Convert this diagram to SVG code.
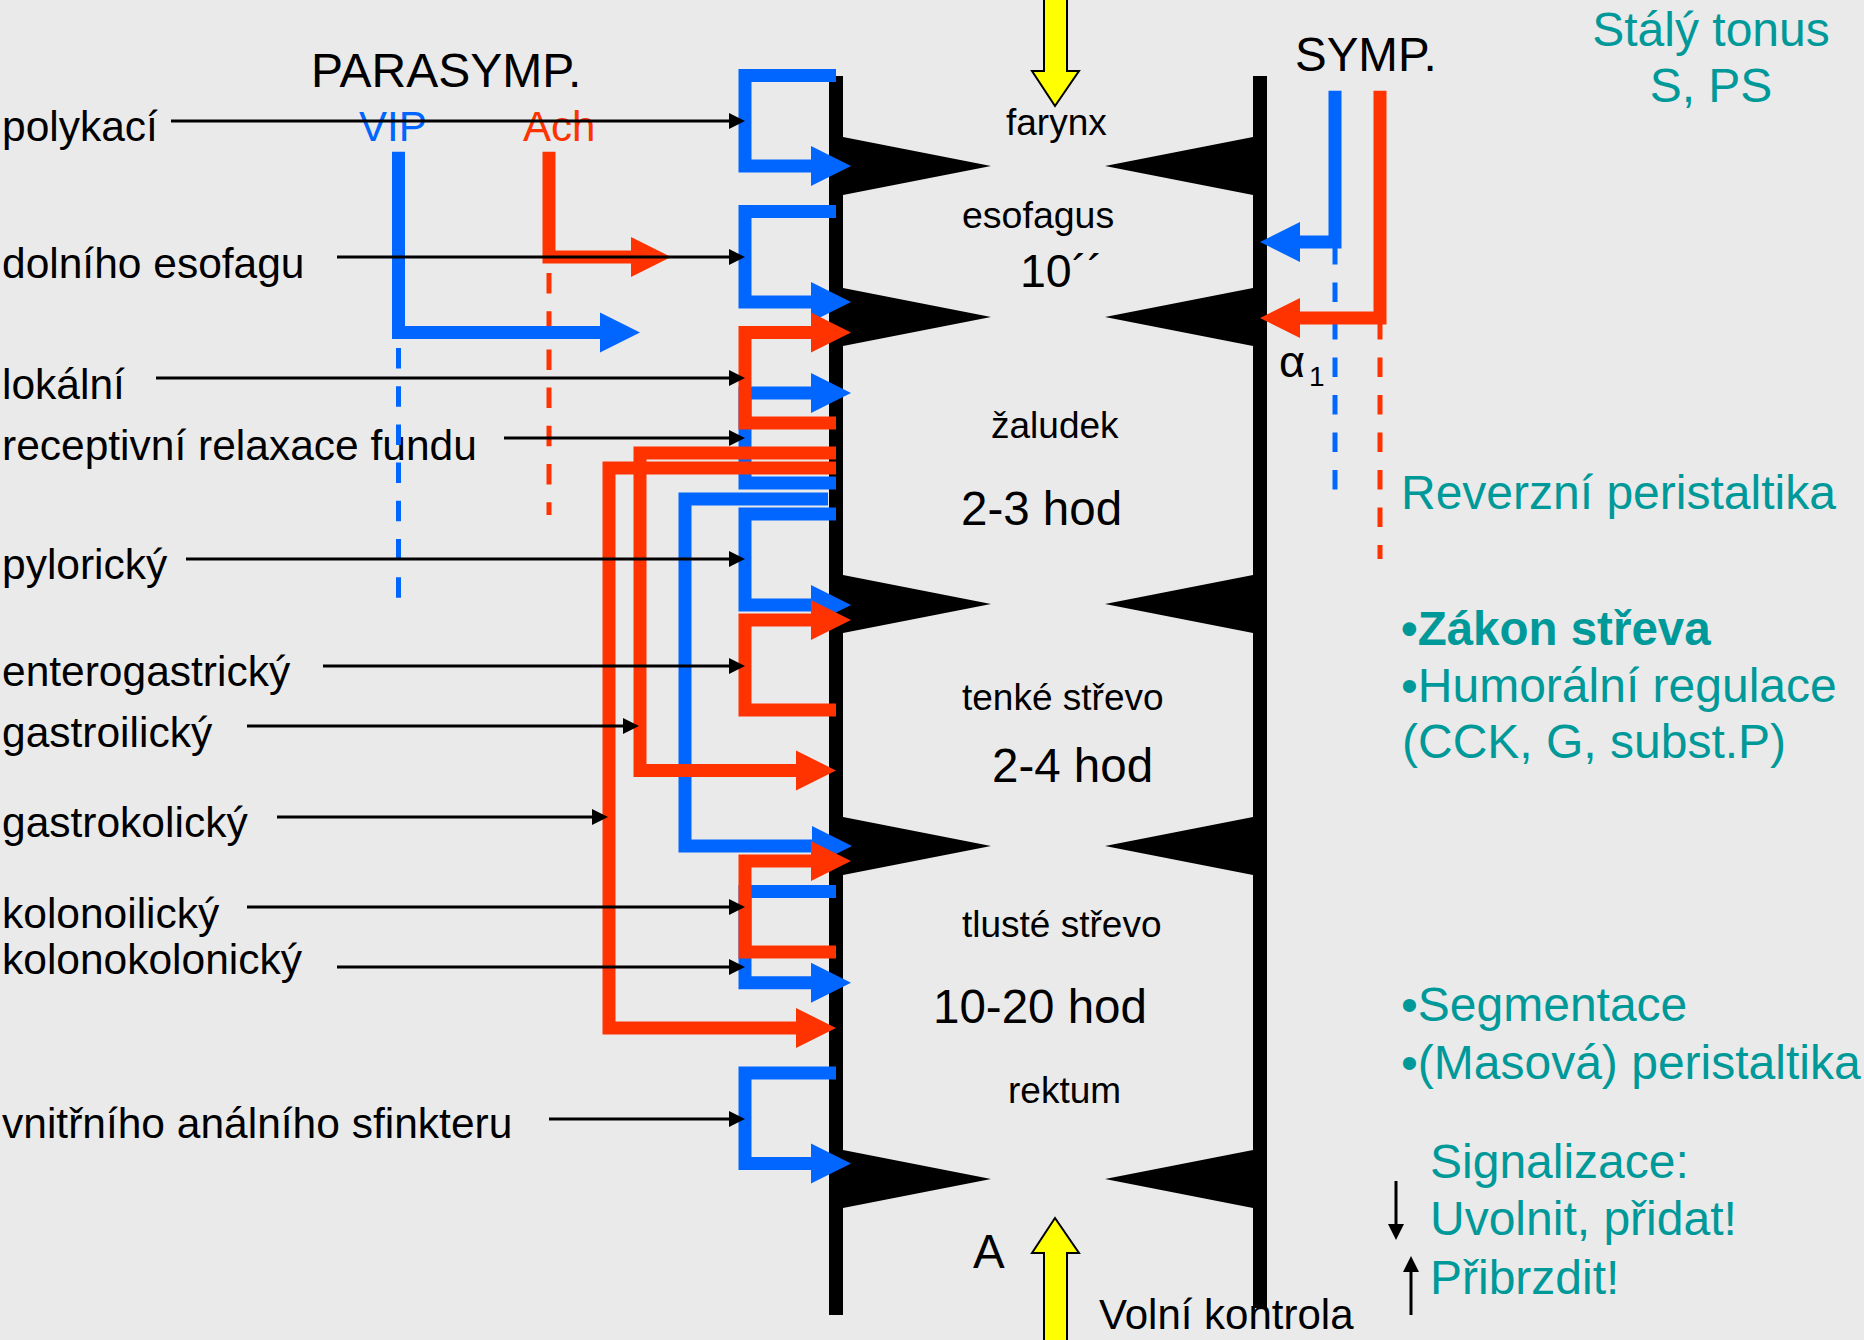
<svg xmlns="http://www.w3.org/2000/svg" width="1864" height="1340" viewBox="0 0 1864 1340">
<style>
text{font-family:"Liberation Sans",Arial,sans-serif;}
.lab{font-size:42.5px;fill:#000;}
.seg{font-size:37px;fill:#000;}
.big{font-size:47.5px;fill:#000;}
.teal{font-size:48px;fill:#009999;}
.wall{fill:#000;}
.b{stroke:#0066FF;stroke-width:13;fill:none;stroke-linejoin:miter;}
.r{stroke:#FF3300;stroke-width:13;fill:none;stroke-linejoin:miter;}
.ba{marker-end:url(#hb);}
.ra{marker-end:url(#hr);}
.bd{stroke:#0066FF;stroke-width:5;fill:none;}
.rd{stroke:#FF3300;stroke-width:5;fill:none;}
.k{stroke:#000;stroke-width:3;fill:none;marker-end:url(#hk);}
.yel{fill:#FFFF00;stroke:#000;stroke-width:2;}
</style>
<defs>
<marker id="hb" markerUnits="userSpaceOnUse" markerWidth="40" markerHeight="40" refX="0" refY="20" orient="auto" overflow="visible"><path d="M0,0 L40,20 L0,40 Z" fill="#0066FF"/></marker>
<marker id="hr" markerUnits="userSpaceOnUse" markerWidth="40" markerHeight="40" refX="0" refY="20" orient="auto" overflow="visible"><path d="M0,0 L40,20 L0,40 Z" fill="#FF3300"/></marker>
<marker id="hk" markerUnits="userSpaceOnUse" markerWidth="16" markerHeight="16" refX="0" refY="8" orient="auto" overflow="visible"><path d="M0,0 L16,8 L0,16 Z" fill="#000"/></marker>
</defs>
<rect width="1864" height="1340" fill="#EAEAEA"/>

<g id="gut">
<rect class="wall" x="829" y="76" width="14" height="1239"/>
<rect class="wall" x="1253" y="76" width="14" height="1232"/>
<polygon class="wall" points="843,137 991,166 843,195"/>
<polygon class="wall" points="843,288 991,317 843,346"/>
<polygon class="wall" points="843,575 991,604 843,633"/>
<polygon class="wall" points="843,817 991,846 843,875"/>
<polygon class="wall" points="843,1150 991,1179 843,1208"/>
<polygon class="wall" points="1253,137 1105,166 1253,195"/>
<polygon class="wall" points="1253,288 1105,317 1253,346"/>
<polygon class="wall" points="1253,575 1105,604 1253,633"/>
<polygon class="wall" points="1253,817 1105,846 1253,875"/>
<polygon class="wall" points="1253,1150 1105,1179 1253,1208"/>
</g>

<g id="yellow-arrows">
<polygon class="yel" points="1044,-2 1067,-2 1067,71 1079,71 1055,106 1032,71 1044,71"/>
<polygon class="yel" points="1055,1218 1079,1253 1067,1253 1067,1342 1044,1342 1044,1253 1032,1253"/>
</g>

<g id="segment-labels">
<text class="seg" x="1006" y="135">farynx</text>
<text class="seg" x="962" y="228" style="font-size:37.5px">esofagus</text>
<text class="big" x="1020" y="287" style="font-size:46.5px">10´´</text>
<text class="seg" x="991" y="438">žaludek</text>
<text class="big" x="961" y="525">2-3 hod</text>
<text class="seg" x="962" y="710">tenké střevo</text>
<text class="big" x="992" y="782">2-4 hod</text>
<text class="seg" x="962" y="937">tlusté střevo</text>
<text class="big" x="933" y="1023">10-20 hod</text>
<text class="seg" x="1008" y="1103">rektum</text>
<text class="big" x="973" y="1268">A</text>
<text x="1099" y="1329" style="font-size:42px">Volní kontrola</text>
</g>

<g id="headers">
<text x="311" y="87" style="font-size:48px">PARASYMP.</text>
<text x="1295" y="71" style="font-size:47.5px">SYMP.</text>
<text x="359" y="141" style="font-size:42px;fill:#0066FF">VIP</text>
<text x="523" y="141" style="font-size:42px;fill:#FF3300">Ach</text>
<text class="teal" x="1711" y="46" text-anchor="middle">Stálý tonus</text>
<text class="teal" x="1711" y="102" text-anchor="middle">S, PS</text>
<text x="1279" y="377" style="font-size:45px">α<tspan x="1309" y="386" style="font-size:28px">1</tspan></text>
</g>

<g id="right-notes">
<text class="teal" x="1401" y="509">Reverzní peristaltika</text>
<text class="teal" x="1401" y="645" font-weight="bold" style="font-size:47.5px">•Zákon střeva</text>
<text class="teal" x="1401" y="702">•Humorální regulace</text>
<text class="teal" x="1402" y="758">(CCK, G, subst.P)</text>
<text class="teal" x="1401" y="1021">•Segmentace</text>
<text class="teal" x="1401" y="1079">•(Masová) peristaltika</text>
<text class="teal" x="1430" y="1178">Signalizace:</text>
<text class="teal" x="1430" y="1235">Uvolnit, přidat!</text>
<text class="teal" x="1430" y="1294">Přibrzdit!</text>
</g>

<g id="reflex-labels">
<text class="lab" x="2" y="141">polykací</text>
<text class="lab" x="2" y="278">dolního esofagu</text>
<text class="lab" x="2" y="399">lokální</text>
<text class="lab" x="2" y="460">receptivní relaxace fundu</text>
<text class="lab" x="2" y="579">pylorický</text>
<text class="lab" x="2" y="686">enterogastrický</text>
<text class="lab" x="2" y="747">gastroilický</text>
<text class="lab" x="2" y="837">gastrokolický</text>
<text class="lab" x="2" y="928">kolonoilický</text>
<text class="lab" x="2" y="974">kolonokolonický</text>
<text class="lab" x="2" y="1138">vnitřního análního sfinkteru</text>
</g>

<g id="connectors">
<line class="bd" x1="398.5" y1="348" x2="398.5" y2="598" stroke-dasharray="20.5 17.7"/>
<line class="rd" x1="549" y1="273" x2="549" y2="515" stroke-dasharray="20.5 17.7"/>
<line class="bd" x1="1335" y1="245" x2="1335" y2="492" stroke-dasharray="19.5 18"/>
<line class="rd" x1="1380" y1="320" x2="1380" y2="559" stroke-dasharray="19.5 18"/>
<path class="b ba" d="M398.5,151.7 V332.5 H600"/>
<path class="r ra" d="M549,151.7 V257 H631"/>
<path class="b ba" d="M1335,90.7 V242 H1300"/>
<path class="r ra" d="M1380,90.7 V318 H1300"/>
<path class="b ba" d="M836,75.5 H745 V166 H811"/>
<path class="b ba" d="M836,211.5 H745 V302 H811"/>
<path class="b ba" d="M836,483 H745 V393 H811"/>
<path class="b ba" d="M836,514 H745 V605 H811"/>
<path class="b ba" d="M828,499 H685 V846 H812"/>
<path class="b ba" d="M836,891.5 H745 V982.7 H811"/>
<path class="b ba" d="M836,1073 H745 V1163.5 H811"/>
<path class="r ra" d="M836,423 H745 V332.5 H811"/>
<path class="r ra" d="M836,710 H745 V620 H811"/>
<path class="r ra" d="M836,952 H745 V861 H811"/>
<path class="r ra" d="M836,453 H640 V770.5 H796"/>
<path class="r ra" d="M836,468 H609 V1028 H796"/>
<line class="k" x1="171" y1="121" x2="729" y2="121"/>
<line class="k" x1="337" y1="257" x2="729" y2="257"/>
<line class="k" x1="156" y1="378" x2="729" y2="378"/>
<line class="k" x1="504" y1="438" x2="729" y2="438"/>
<line class="k" x1="186" y1="559" x2="729" y2="559"/>
<line class="k" x1="323" y1="666" x2="729" y2="666"/>
<line class="k" x1="247" y1="726" x2="623" y2="726"/>
<line class="k" x1="277" y1="817" x2="592" y2="817"/>
<line class="k" x1="247" y1="907" x2="729" y2="907"/>
<line class="k" x1="337" y1="967" x2="729" y2="967"/>
<line class="k" x1="549" y1="1119" x2="729" y2="1119"/>
<line class="k" x1="1396" y1="1181" x2="1396" y2="1224"/>
<line class="k" x1="1411" y1="1315" x2="1411" y2="1272"/>
</g>
</svg>
